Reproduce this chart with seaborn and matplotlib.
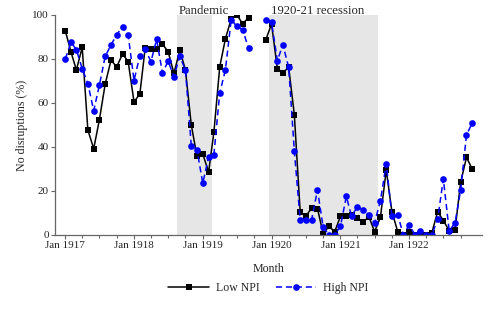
import matplotlib

matplotlib.use("Agg")
import matplotlib.dates as mdates
import matplotlib.pyplot as plt
import numpy as np
import pandas as pd
import seaborn as sns

nan = np.nan

# monthly observations, Jan 1917 .. Dec 1922 (Oct/Nov 1919 missing)
months = pd.date_range("1917-01-01", "1922-12-01", freq="MS")

low_npi = [
    92.9, 83.0, 75.0, 85.3, 47.7, 39.2, 52.3, 68.6, 79.5, 76.4, 82.3, 78.8,
    60.5, 64.1, 84.8, 84.5, 84.5, 86.8, 83.3, 73.5, 84.0, 75.0, 50.0, 35.8,
    36.8, 28.6, 46.7, 76.4, 89.1, 98.2, 100.0, 96.0, 98.8, nan, nan, 88.6,
    95.9, 75.6, 73.8, 76.2, 54.7, 10.6, 8.5, 12.3, 12.0, 0.5, 4.0, 1.4,
    8.5, 8.6, 9.1, 7.6, 5.8, 8.3, 1.5, 8.0, 29.5, 10.6, 1.5, 0.0,
    1.5, 0.0, 0.5, 0.0, 1.0, 10.6, 6.5, 2.0, 2.3, 23.9, 35.3, 30.0,
]
high_npi = [
    80.0, 87.6, 84.2, 75.6, 68.8, 56.5, 68.0, 81.2, 86.4, 91.0, 94.7, 91.0,
    70.2, 81.5, 84.5, 78.8, 88.9, 73.6, 79.0, 72.0, 81.2, 75.0, 40.6, 38.8,
    23.5, 35.5, 36.5, 64.5, 75.0, 97.9, 94.8, 93.3, 84.8, nan, nan, 97.6,
    96.8, 79.2, 86.5, 76.2, 38.3, 7.0, 7.0, 7.0, 20.5, 3.5, 0.0, 0.0,
    4.0, 17.5, 8.5, 12.9, 11.4, 9.1, 5.5, 15.5, 32.4, 8.6, 9.1, 0.0,
    4.5, 0.0, 2.0, 0.0, 0.0, 7.1, 25.5, 2.0, 5.3, 20.5, 45.5, 50.8,
]

series_names = ["Low NPI", "High NPI"]
shaded = [
    ("Pandemic", "1918-08-19", "1919-02-17"),
    ("1920-21 recession", "1919-12-19", "1921-07-18"),
]
# labelled ticks stop at Jan 1922, quarter ticks up to Oct 1922
major_ticks = pd.date_range("1917-01-01", "1922-01-01", freq="YS")
minor_ticks = pd.date_range("1917-04-01", "1922-10-01", freq="QS-JAN")

df = pd.concat(
    [
        pd.DataFrame({"month": months, "value": low_npi, "series": "Low NPI"}),
        pd.DataFrame({"month": months, "value": high_npi, "series": "High NPI"}),
    ],
    ignore_index=True,
)
df = df.dropna()
# separate line pieces either side of the data gap
df["segment"] = (df["month"] >= pd.Timestamp("1919-12-01")).astype(int)

sns.set_style("ticks")
plt.rcParams["font.family"] = ["Liberation Serif", "DejaVu Serif"]
plt.rcParams["font.size"] = 8.5

fig = plt.figure(figsize=(4.98, 3.12), dpi=100)
ax = fig.add_axes([0.111, 0.247, 0.856, 0.705])

for label, start, end in shaded:
    ax.axvspan(pd.Timestamp(start), pd.Timestamp(end), color="#e6e6e6", lw=0, zorder=0)
    ax.text(pd.Timestamp(start) + pd.Timedelta(days=8), 100.6, label,
            ha="left", va="baseline", fontsize=9.2)

sns.lineplot(
    data=df, x="month", y="value", hue="series", style="series",
    units="segment", estimator=None, ax=ax,
    hue_order=series_names, style_order=series_names,
    palette={"Low NPI": "black", "High NPI": "#0000ff"},
    markers={"Low NPI": "s", "High NPI": "o"},
    dashes={"Low NPI": "", "High NPI": (4, 2.5)},
    markersize=4.8, markeredgewidth=0, linewidth=1.1,
)

ax.set_xlim(pd.Timestamp("1916-11-09"), pd.Timestamp("1923-01-20"))
ax.set_ylim(0, 100)
ax.set_yticks([0, 20, 40, 60, 80, 100])
ax.set_xticks(major_ticks)
ax.set_xticks(minor_ticks, minor=True)
ax.xaxis.set_major_formatter(mdates.DateFormatter("%b %Y"))
ax.tick_params(axis="both", which="major", length=3, width=0.8,
               color="#666666", labelsize=8, pad=1.5)
ax.tick_params(axis="x", which="minor", length=2, width=0.8, color="#666666")

sns.despine(ax=ax)
for side in ["left", "bottom"]:
    ax.spines[side].set_color("#666666")
    ax.spines[side].set_linewidth(0.9)

ax.set_xlabel("Month", fontsize=8.6, labelpad=9)
ax.set_ylabel("No disruptions (%)", fontsize=8.6, labelpad=3)

sns.move_legend(
    ax, "upper center", bbox_to_anchor=(0.5, -0.165), ncol=2, title=None,
    frameon=False, handlelength=3.4, handletextpad=0.6, columnspacing=1.4,
    fontsize=8.5,
)

fig.savefig("out.png", dpi=100)
